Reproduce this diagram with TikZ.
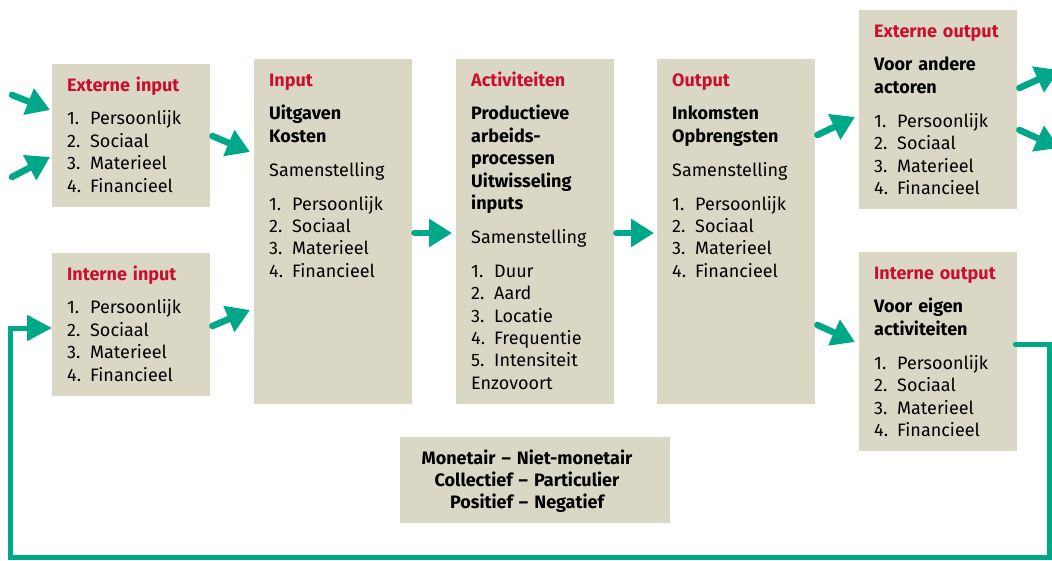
\documentclass[tikz,border=0pt]{standalone}
\usepackage{fontspec}
\setmainfont{Fira Sans}
\usetikzlibrary{arrows.meta}
\definecolor{boxfill}{HTML}{DAD7C4}
\definecolor{teal}{HTML}{00A88A}
\definecolor{ttlred}{HTML}{C8102E}
\newcommand\itm[1]{\makebox[23pt][l]{#1}}
\newcommand\ttl[1]{{\bfseries\color{ttlred}#1}}
\newcommand\gp{\\[11.5pt]}
\begin{document}
\begin{tikzpicture}[x=1pt,y=-1pt,
  box/.style={rectangle,fill=boxfill,draw=none,anchor=north west,inner sep=0pt},
  txt/.style={anchor=base west,inner sep=0pt,text width=150pt,align=left,
    font=\fontsize{18}{22.4}\selectfont},
  arr/.style={draw=teal,line width=6.5pt,line cap=round,
    -{Triangle[length=23pt,width=27pt]}},
  fb/.style={draw=teal,line width=5pt,line cap=round,
    -{Triangle[length=25pt,width=25pt]}}]
\clip (0,0) rectangle (1052,560);
\fill[white] (0,0) rectangle (1052,560);
% boxes
\node[box,minimum width=158pt,minimum height=143pt] (ei) at (52,64) {};
\node[box,minimum width=158pt,minimum height=143pt] (ii) at (52,253) {};
\node[box,minimum width=158pt,minimum height=345pt] (in) at (254,59) {};
\node[box,minimum width=158pt,minimum height=345pt] (ac) at (456,59) {};
\node[box,minimum width=158pt,minimum height=345pt] (ou) at (657,59) {};
\node[box,minimum width=158pt,minimum height=199pt] (eo) at (859,10) {};
\node[box,minimum width=158pt,minimum height=199pt] (io) at (859,252) {};
\node[box,minimum width=270pt,minimum height=86pt] (bt) at (400,437) {};
% texts
\node[txt] (tei) at (67,91) {\ttl{Externe input}\gp
  \itm{1.}Persoonlijk\\\itm{2.}Sociaal\\\itm{3.}Materieel\\\itm{4.}Financieel};
\node[txt] (tii) at (67,280) {\ttl{Interne input}\gp
  \itm{1.}Persoonlijk\\\itm{2.}Sociaal\\\itm{3.}Materieel\\\itm{4.}Financieel};
\node[txt] (tin) at (269,86) {\ttl{Input}\gp
  \textbf{Uitgaven}\\\textbf{Kosten}\gp Samenstelling\gp
  \itm{1.}Persoonlijk\\\itm{2.}Sociaal\\\itm{3.}Materieel\\\itm{4.}Financieel};
\node[txt] (tac) at (471,86) {\ttl{Activiteiten}\gp
  \textbf{Productieve}\\\textbf{arbeids-}\\\textbf{processen}\\\textbf{Uitwisseling}\\\textbf{inputs}\gp
  Samenstelling\gp
  \itm{1.}Duur\\\itm{2.}Aard\\\itm{3.}Locatie\\\itm{4.}Frequentie\\\itm{5.}Intensiteit\\Enzovoort};
\node[txt] (tou) at (672,86) {\ttl{Output}\gp
  \textbf{Inkomsten}\\\textbf{Opbrengsten}\gp Samenstelling\gp
  \itm{1.}Persoonlijk\\\itm{2.}Sociaal\\\itm{3.}Materieel\\\itm{4.}Financieel};
\node[txt] (teo) at (874,37) {\ttl{Externe output}\gp
  \textbf{Voor andere}\\\textbf{actoren}\gp
  \itm{1.}Persoonlijk\\\itm{2.}Sociaal\\\itm{3.}Materieel\\\itm{4.}Financieel};
\node[txt] (tio) at (874,279) {\ttl{Interne output}\gp
  \textbf{Voor eigen}\\\textbf{activiteiten}\gp
  \itm{1.}Persoonlijk\\\itm{2.}Sociaal\\\itm{3.}Materieel\\\itm{4.}Financieel};
\node[anchor=base,inner sep=0pt,text width=260pt,align=center,
  font=\fontsize{18}{22.4}\selectfont\bfseries] (tbt) at (527,464)
  {Monetair -- Niet-monetair\\Collectief -- Particulier\\Positief -- Negatief};
% connectors
\coordinate (s1) at (12,95);
\coordinate (s2) at (12,177);
\coordinate (e1) at (1059,70);
\coordinate (e2) at (1059,148);
\draw[arr] (s1) -- ([shift={(-2,46)}]ei.north west);
\draw[arr] (s2) -- ([shift={(-2,93)}]ei.north west);
\draw[arr] ([shift={(2,72)}]ei.north east) -- ([shift={(-4,93)}]in.north west);
\draw[arr] ([shift={(2,73)}]ii.north east) -- ([shift={(-4,251)}]in.north west);
\draw[arr] ([shift={(2,174)}]in.north east) -- ([shift={(-4,174)}]ac.north west);
\draw[arr] ([shift={(2,174)}]ac.north east) -- ([shift={(-3,174)}]ou.north west);
\draw[arr] ([shift={(2,76)}]ou.north east) -- ([shift={(-4,107)}]eo.north west);
\draw[arr] ([shift={(2,266)}]ou.north east) -- ([shift={(-4,90)}]io.north west);
\draw[arr] ([shift={(2,78)}]eo.north east) -- (e1);
\draw[arr] ([shift={(2,120)}]eo.north east) -- (e2);
\coordinate (f1) at (1049,344);
\coordinate (f2) at (1049,557);
\coordinate (f3) at (10,557);
\coordinate (f4) at (10,328);
\draw[fb] ([shift={(-2,92)}]io.north east) -- (f1) -- (f2) -- (f3) -- (f4)
  -- ([shift={(0,75)}]ii.north west);
\end{tikzpicture}
\end{document}
